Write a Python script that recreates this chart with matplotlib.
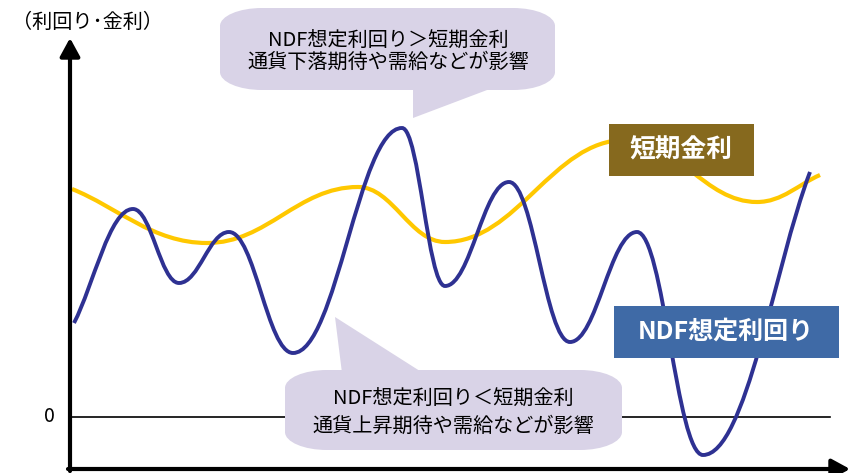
import matplotlib
matplotlib.use("Agg")
import matplotlib.pyplot as plt
from matplotlib.path import Path
from matplotlib.patches import PathPatch, Polygon, Rectangle

plt.rcParams['font.family'] = ['Noto Sans CJK JP', 'DejaVu Sans']

# 概念図の値（横軸は時間、縦軸は利回り・金利の水準。0 が基準線）
ndf_t = [74, 133, 179, 229, 293, 402, 445, 509, 570, 637, 703, 810]
ndf_y = [94, 208, 134, 185, 64, 289, 131, 235, 75, 185, -38, 245]

rate_t = [72, 207, 358, 445, 625, 757, 820]
rate_y = [228, 174, 230, 175, 277, 215, 242]

ylabel = "（利回り･金利）"
upper_note = ["NDF想定利回り＞短期金利", "通貨下落期待や需給などが影響"]
lower_note = ["NDF想定利回り＜短期金利", "通貨上昇期待や需給などが影響"]

NAVY = "#2E3192"
YELLOW = "#FFC800"
LAVENDER = "#D9D3E7"
BROWN = "#86691E"
BLUE = "#3F6AA6"


def smooth_path(xs, ys, k=0.4):
    # 山と谷で水平になるようにベジェ曲線でつなぐ
    verts = [(xs[0], ys[0])]
    codes = [Path.MOVETO]
    n = len(xs)
    for i in range(n - 1):
        x0, y0, x1, y1 = xs[i], ys[i], xs[i + 1], ys[i + 1]
        d = k * (x1 - x0)
        if i == 0:
            c1 = (x0 + (x1 - x0) / 3, y0 + (y1 - y0) / 3)
        else:
            c1 = (x0 + d, y0)
        if i == n - 2:
            c2 = (x1 - (x1 - x0) / 3, y1 - (y1 - y0) / 3)
        else:
            c2 = (x1 - d, y1)
        verts += [c1, c2, (x1, y1)]
        codes += [Path.CURVE4] * 3
    return Path(verts, codes)


def round_box(x0, x1, y0, y1, rx, ry):
    k = 0.5523
    verts = [
        (x0 + rx, y0), (x1 - rx, y0),
        (x1 - rx + k * rx, y0), (x1, y0 + ry - k * ry), (x1, y0 + ry),
        (x1, y1 - ry),
        (x1, y1 - ry + k * ry), (x1 - rx + k * rx, y1), (x1 - rx, y1),
        (x0 + rx, y1),
        (x0 + rx - k * rx, y1), (x0, y1 - ry + k * ry), (x0, y1 - ry),
        (x0, y0 + ry),
        (x0, y0 + ry - k * ry), (x0 + rx - k * rx, y0), (x0 + rx, y0),
        (x0 + rx, y0),
    ]
    codes = ([Path.MOVETO, Path.LINETO] + [Path.CURVE4] * 3 + [Path.LINETO]
             + [Path.CURVE4] * 3 + [Path.LINETO] + [Path.CURVE4] * 3
             + [Path.LINETO] + [Path.CURVE4] * 3 + [Path.CLOSEPOLY])
    return Path(verts, codes)


fig = plt.figure(figsize=(8.64, 4.73), dpi=100)
ax = fig.add_axes([0, 0, 1, 1])
ax.set_xlim(0, 864)
ax.set_ylim(-56, 417)
ax.axis("off")

# 軸
arrow = dict(arrowstyle="-|>,head_length=0.55,head_width=0.3", lw=3,
             color="black", mutation_scale=20, shrinkA=0, shrinkB=0)
ax.annotate("", xy=(70, 379), xytext=(70, -54), arrowprops=arrow, zorder=6)
ax.annotate("", xy=(850, -52), xytext=(68, -52), arrowprops=arrow, zorder=6)
ax.plot([70, 830], [0, 0], color="black", lw=1.2, zorder=1)
ax.text(49, 1, "0", fontsize=14, ha="center", va="center")
ax.text(88, 395, ylabel, fontsize=14.5, ha="center", va="center")

# 吹き出し（上）
ax.add_patch(PathPatch(round_box(220, 555, 327, 409, 42, 18),
                       facecolor=LAVENDER, edgecolor="none", zorder=2))
ax.add_patch(Polygon([(413, 330), (495, 330), (413, 299)],
                     facecolor=LAVENDER, edgecolor="none", zorder=2))
ax.text(388, 377, upper_note[0], fontsize=14.5, ha="center", va="center", zorder=5)
ax.text(388, 355, upper_note[1], fontsize=14.5, ha="center", va="center", zorder=5)

# 吹き出し（下）
ax.add_patch(PathPatch(round_box(285, 622, -33, 47, 42, 18),
                       facecolor=LAVENDER, edgecolor="none", zorder=2))
ax.add_patch(Polygon([(342, 44), (423, 44), (335, 100)],
                     facecolor=LAVENDER, edgecolor="none", zorder=2))
ax.text(453, 19, lower_note[0], fontsize=14.5, ha="center", va="center", zorder=5)
ax.text(453, -9, lower_note[1], fontsize=14.5, ha="center", va="center", zorder=5)

# 曲線
ax.add_patch(PathPatch(smooth_path(rate_t, rate_y), facecolor="none",
                       edgecolor=YELLOW, lw=3, capstyle="butt", zorder=3))
ax.add_patch(PathPatch(smooth_path(ndf_t, ndf_y), facecolor="none",
                       edgecolor=NAVY, lw=2.8, capstyle="butt", zorder=3))

# 凡例ボックス
ax.add_patch(Rectangle((609, 241), 145, 52, facecolor=BROWN, edgecolor="none", zorder=4))
ax.text(681, 267, "短期金利", fontsize=18.5, fontweight="bold", color="white",
        ha="center", va="center", zorder=5)
ax.add_patch(Rectangle((614, 59), 225, 52, facecolor=BLUE, edgecolor="none", zorder=4))
ax.text(726, 85, "NDF想定利回り", fontsize=18, fontweight="bold", color="white",
        ha="center", va="center", zorder=5)

fig.savefig("out.png", dpi=100)
